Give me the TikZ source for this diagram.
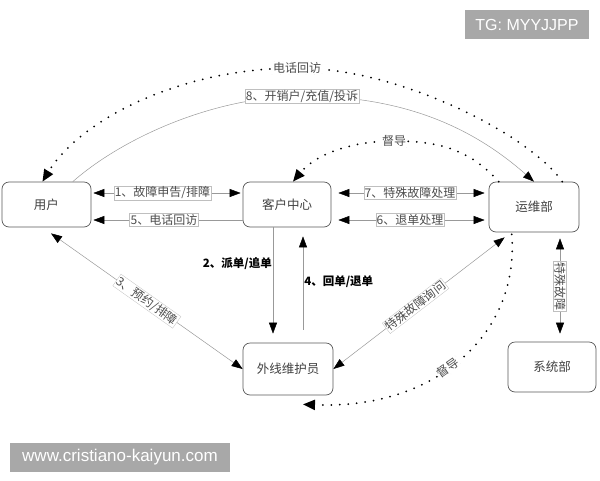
\documentclass[tikz,border=0pt]{standalone}
\usepackage{fontspec}
\setmainfont{Noto Sans CJK SC}
\newfontfamily\wmfont{Liberation Sans}
\usetikzlibrary{arrows.meta,calc}
\begin{document}
\begin{tikzpicture}[x=1pt,y=-1pt,
  box/.style={draw=black!65, line width=0.7pt, rounded corners=7pt, fill=white,
    text=black!75, font=\fontsize{12.5}{14}\selectfont, inner sep=0pt},
  conn/.style={draw=black!40, line width=0.5pt},
  dotl/.style={draw=black, line width=2pt, line cap=round, dash pattern=on 0pt off 8.5pt},
  lbl/.style={fill=white, draw=black!25, line width=0.3pt, inner sep=1pt,
    text=black!70, font=\fontsize{12}{13}\selectfont},
  bl/.style={inner sep=1pt, text=black, font=\bfseries\fontsize{11.5}{13}\selectfont},
  wm/.style={fill=black!34, text=white, inner sep=0pt},
  tipA/.tip={Triangle[length=11pt,width=8pt,color=black]},
  tipB/.tip={Triangle[length=12pt,width=10pt,color=black]}]
\useasboundingbox (0,0) rectangle (600,480);

% boxes
\node[box, minimum width=89pt, minimum height=45pt] (yh) at (46.5,204.5) {用户};
\node[box, minimum width=88pt, minimum height=45pt] (kf) at (287,204.5) {客户中心};
\node[box, minimum width=90pt, minimum height=50pt] (yw) at (534,207) {运维部};
\node[box, minimum width=90pt, minimum height=52pt] (wx) at (288,369) {外线维护员};
\node[box, minimum width=88pt, minimum height=50pt] (xt) at (552,367) {系统部};

% horizontal connectors
\draw[conn, tipA-tipA, shorten <=2pt, shorten >=2pt]
  ([yshift=11.5pt]yh.east) -- node[lbl, pos=0.47]{1、故障申告/排障} ([yshift=11.5pt]kf.west);
\draw[conn, tipA-, shorten <=2pt]
  ([yshift=-15.5pt]yh.east) -- node[lbl, pos=0.48]{5、电话回访} ([yshift=-15.5pt]kf.west);
\draw[conn, tipA-tipA, shorten <=7pt, shorten >=4pt]
  ([yshift=11.5pt]kf.east) -- node[lbl, pos=0.5]{7、特殊故障处理} ([yshift=14pt]yw.west);
\draw[conn, tipA-tipA, shorten <=7pt, shorten >=4pt]
  ([yshift=-15.5pt]kf.east) -- node[lbl, pos=0.5]{6、退单处理} ([yshift=-13pt]yw.west);

% vertical connectors
\draw[conn, -tipA, shorten >=9pt]
  ([xshift=-14pt]kf.south) -- node[bl, pos=0.31, anchor=east]{2、派单/追单} ([xshift=-15pt]wx.north);
\draw[conn, -tipA, shorten <=13pt, shorten >=9pt]
  ([xshift=15pt]wx.north) -- node[bl, pos=0.53, anchor=west]{4、回单/退单} ([xshift=16pt]kf.south);

% diagonal connectors
\draw[conn, tipA-tipA]
  ($(yh.south)+(4.5,6)$) -- node[lbl, sloped]{3、预约/排障} (wx.west);
\draw[conn, tipA-tipA]
  ($(yw.south west)+(16,5)$) -- node[lbl, sloped, pos=0.52]{特殊故障询问} (wx.east);
\draw[conn, tipA-tipA]
  ($(yw.south)+(26,6)$) -- node[lbl, rotate=-90]{特殊故障} ($(xt.north)+(8,-8)$);

% curved connectors
\draw[conn, -tipA] (yh.41) .. controls (120,140) and (210,97) .. (302,96)
  node[lbl]{8、开销户/充值/投诉}
  .. controls (400,96) and (470,125) .. (yw.north);
\draw[dotl, -tipB] (yw.42) .. controls (530,135) and (400,68) .. (297,68)
  node[lbl]{电话回访}
  .. controls (180,68) and (80,120) .. (yh.100);
\draw[dotl, -tipB] ($(yw.north west)+(10,0)$) .. controls (470,150) and (440,141) .. (394,141)
  node[lbl]{督导}
  .. controls (350,141) and (315,155) .. ($(kf.north)+(6,0)$);
\draw[dotl, -tipB] ($(yw.south west)+(23,2)$) .. controls (520,330) and (440,410) ..
  ($(wx.south)+(15,9)$) node[lbl, sloped, pos=0.56]{督导};

% watermarks
\node[wm, minimum width=124pt, minimum height=29pt, font=\wmfont\fontsize{16}{18}\selectfont] (tg) at (527,24.5) {TG: MYYJJPP};
\node[wm, minimum width=220pt, minimum height=29pt, font=\wmfont\fontsize{17}{19}\selectfont] (web) at (120,457.5) {www.cristiano-kaiyun.com};
\end{tikzpicture}
\end{document}
